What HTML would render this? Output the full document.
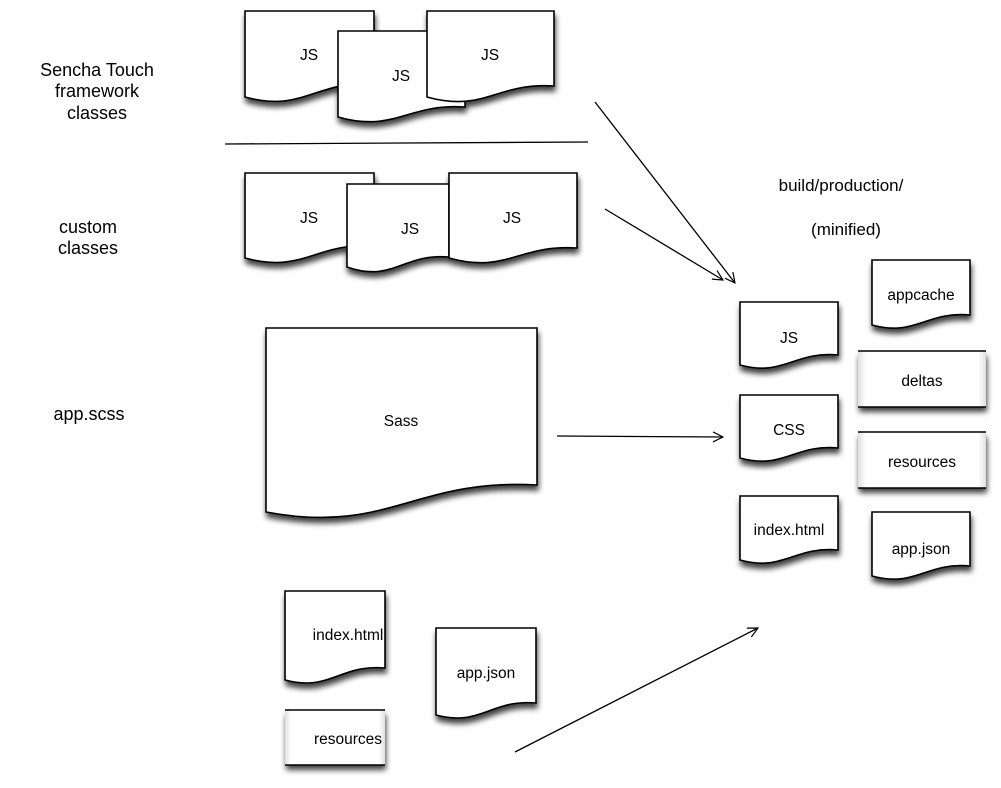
<!DOCTYPE html>
<html><head><meta charset="utf-8"><style>
html,body{margin:0;padding:0;background:#fff;}
svg{display:block;}
text{font-family:"Liberation Sans",sans-serif;fill:#000;}
</style></head><body>
<svg width="1001" height="788" viewBox="0 0 1001 788" xmlns="http://www.w3.org/2000/svg">
<defs>
<filter id="sh" x="-20%" y="-20%" width="140%" height="150%">
<feGaussianBlur in="SourceAlpha" stdDeviation="3"/>
<feOffset dx="1" dy="5" result="b"/>
<feComponentTransfer><feFuncA type="linear" slope="0.75"/></feComponentTransfer>
<feMerge><feMergeNode/><feMergeNode in="SourceGraphic"/></feMerge>
</filter>
<linearGradient id="g" x1="0" x2="1" y1="0" y2="0">
<stop offset="0" stop-color="#e0e0e0"/><stop offset="0.06" stop-color="#fff"/>
<stop offset="0.94" stop-color="#fff"/><stop offset="1" stop-color="#e0e0e0"/>
</linearGradient>
<marker id="ar" viewBox="0 0 12 12" refX="11" refY="6" markerWidth="12" markerHeight="12" markerUnits="userSpaceOnUse" orient="auto">
<path d="M1,1 L11,6 L1,11" fill="none" stroke="#000" stroke-width="1.2"/>
</marker>
</defs>
<g fill="#fff" stroke="#000" stroke-width="1.6" filter="url(#sh)">
<path d="M245,11 H374 V84 C316,80 303,113 245,97 Z"/>
<path d="M338,31 H465 V107 C408,103 395,133 338,117 Z"/>
<path d="M427,11 H554 V86 C497,82 484,113 427,97 Z"/>
<path d="M245,173 H374 V246 C316,242 303,274 245,258 Z"/>
<path d="M347,184 H449 V257 C403,253 393,283 347,267 Z"/>
<path d="M449,173 H577 V248 C519,244 507,274 449,258 Z"/>
<path d="M266,328 H537 V485 C415,478 388,535 266,512 Z"/>
<path d="M740,302 H838 V355 C794,351 784,377 740,365 Z"/>
<path d="M740,395 H838 V448 C794,444 784,470 740,458 Z"/>
<path d="M740,496 H838 V550 C794,546 784,572 740,560 Z"/>
<path d="M872,260 H970 V315 C926,311 916,337 872,325 Z"/>
<path d="M872,512 H970 V566 C926,562 916,588 872,576 Z"/>
<path d="M285,591 H385 V668 C340,664 330,692 285,680 Z"/>
<path d="M436,628 H536 V703 C491,699 481,727 436,715 Z"/>
</g>
<g filter="url(#sh)">
<rect x="858" y="351" width="128" height="56" fill="url(#g)"/>
<rect x="858" y="432" width="128" height="56" fill="url(#g)"/>
<rect x="285" y="710" width="100" height="55" fill="url(#g)"/>
</g>
<g stroke="#000" stroke-width="1.6">
<line x1="858" y1="351" x2="986" y2="351"/><line x1="858" y1="407" x2="986" y2="407"/>
<line x1="858" y1="432" x2="986" y2="432"/><line x1="858" y1="488" x2="986" y2="488"/>
<line x1="285" y1="710" x2="385" y2="710"/><line x1="285" y1="765" x2="385" y2="765"/>
</g>
<line x1="225" y1="144" x2="588" y2="142" stroke="#000" stroke-width="1.3"/>
<g stroke="#000" stroke-width="1.3" marker-end="url(#ar)">
<line x1="595" y1="102" x2="735" y2="283"/>
<line x1="605" y1="209" x2="723" y2="280"/>
<line x1="557" y1="436" x2="723" y2="437"/>
<line x1="515" y1="752" x2="758" y2="628"/>
</g>
<g font-size="15.5" text-anchor="middle">
<text x="309" y="60">JS</text>
<text x="401" y="81">JS</text>
<text x="490" y="60">JS</text>
<text x="309" y="223">JS</text>
<text x="410" y="234">JS</text>
<text x="512" y="223">JS</text>
<text x="401" y="426">Sass</text>
<text x="789" y="343">JS</text>
<text x="789" y="435">CSS</text>
<text x="789" y="535">index.html</text>
<text x="921" y="300">appcache</text>
<text x="922" y="386">deltas</text>
<text x="922" y="467">resources</text>
<text x="921" y="554">app.json</text>
<text x="348" y="640">index.html</text>
<text x="486" y="678">app.json</text>
<text x="348" y="744">resources</text>
</g>
<g font-size="18" text-anchor="middle">
<text x="97" y="76">Sencha Touch</text>
<text x="97" y="97">framework</text>
<text x="97" y="119">classes</text>
<text x="88" y="233">custom</text>
<text x="88" y="254">classes</text>
<text x="89" y="420">app.scss</text>
</g>
<g font-size="17" text-anchor="middle">
<text x="841" y="191">build/production/</text>
<text x="846" y="235">(minified)</text>
</g>
</svg>
</body></html>
